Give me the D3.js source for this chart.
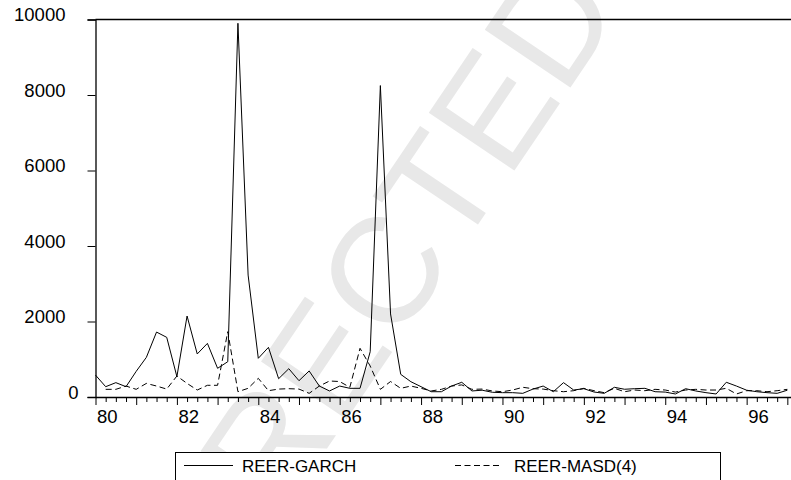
<!DOCTYPE html>
<html>
<head>
<meta charset="utf-8">
<script src="https://cdn.jsdelivr.net/npm/d3@7"></script>
<style>
  html, body { margin: 0; padding: 0; background: #fff; }
  svg { display: block; font-family: "Liberation Sans", Arial, sans-serif; }
</style>
</head>
<body>
<svg id="chart" width="791" height="480"></svg>
<script>
// ---- data (quarterly, 1980Q1 .. 1997Q1) ----
const startYear = 1980;
const seriesNames = ["REER-GARCH", "REER-MASD(4)"];
const garch = [580, 273, 380, 273, 680, 1050, 1720, 1580, 540, 2145,
  1140, 1420, 760, 935, 9900, 3230, 1025, 1315, 485, 750,
  432, 690, 290, 160, 290, 230, 230, 1200, 8250, 2200,
  600, 405, 273, 140, 140, 290, 390, 160, 180, 125,
  115, 115, 97, 210, 290, 140, 380, 185, 220, 132,
  97, 257, 205, 220, 230, 140, 130, 80, 220, 160,
  115, 80, 390, 290, 180, 140, 115, 97, 180];
const masd = [null, 203, 203, 290, 203, 360, 290, 210, 556, 360,
  185, 310, 310, 1730, 140, 230, 495, 167, 210, 220,
  210, 97, 290, 424, 410, 257, 1290, 820, 203, 410,
  230, 290, 230, 160, 203, 290, 320, 203, 210, 160,
  140, 185, 257, 220, 210, 167, 140, 167, 230, 167,
  115, 230, 140, 185, 167, 203, 185, 130, 185, 203,
  185, 185, 230, 80, 167, 167, 140, 167, 203];
const yTicks = [0, 2000, 4000, 6000, 8000, 10000];
const xLabelYears = [1980, 1982, 1984, 1986, 1988, 1990, 1992, 1994, 1996];

// ---- layout ----
const svg = d3.select("#chart");
const plotL = 95.5, plotR = 791, plotT = 19.5, plotB = 397;

const x = d3.scaleLinear().domain([1980, 1997.09]).range([plotL, plotR]);
const y = d3.scaleLinear().domain([0, 10000]).range([plotB, plotT]);

// watermark
svg.append("text")
  .attr("transform", "translate(624,8) rotate(-56)")
  .attr("text-anchor", "end")
  .attr("font-size", 150)
  .attr("fill", "#e8e8e8")
  .text("UNCORRECTED");

// series lines
const line = d3.line()
  .defined(d => d.v != null)
  .x(d => x(d.t))
  .y(d => y(d.v));

const toPts = arr => arr.map((v, i) => ({ t: startYear + i / 4, v }));

svg.append("path")
  .datum(toPts(masd))
  .attr("fill", "none")
  .attr("stroke", "#000")
  .attr("stroke-width", 1)
  .attr("stroke-dasharray", "6,3.5")
  .attr("d", line);

svg.append("path")
  .datum(toPts(garch))
  .attr("fill", "none")
  .attr("stroke", "#000")
  .attr("stroke-width", 1)
  .attr("d", line);

// top border
svg.append("line")
  .attr("x1", plotL).attr("x2", plotR)
  .attr("y1", plotT).attr("y2", plotT)
  .attr("stroke", "#000").attr("stroke-width", 1.3);

// y axis
const yAxis = d3.axisLeft(y)
  .tickValues(yTicks)
  .tickSize(8)
  .tickPadding(22)
  .tickFormat(d3.format("d"));
const gy = svg.append("g")
  .attr("transform", `translate(${plotL},0)`)
  .call(yAxis);
gy.select(".domain").attr("stroke-width", 1.3);
gy.selectAll("text")
  .attr("font-size", 18.5)
  .attr("font-family", "Liberation Sans, Arial, sans-serif")
  .attr("fill", "#000")
  .attr("dy", "0.07em")
  .filter(d => d === 0)
  .attr("x", -17);

// x axis (quarterly ticks)
const qTicks = d3.range(0, 17 * 4 + 1).map(i => startYear + i / 4);
const xAxis = d3.axisBottom(x)
  .tickValues(qTicks)
  .tickSize(5)
  .tickSizeOuter(0)
  .tickPadding(8)
  .tickFormat(d => xLabelYears.includes(d) ? String(d % 100).padStart(2, "0") : "");
const gx = svg.append("g")
  .attr("transform", `translate(0,${plotB})`)
  .call(xAxis);
gx.select(".domain").attr("stroke-width", 1.3);
gx.selectAll(".tick line")
  .attr("y2", d => Number.isInteger(d) ? 8 : 5);
gx.selectAll(".tick text")
  .attr("font-size", 18.5)
  .attr("font-family", "Liberation Sans, Arial, sans-serif")
  .attr("fill", "#000")
  .attr("text-anchor", "start")
  .attr("x", 1)
  .attr("dy", "0.71em");

// legend
const lg = svg.append("g");
lg.append("rect")
  .attr("x", 175.5).attr("y", 452.5)
  .attr("width", 545).attr("height", 40)
  .attr("fill", "#fff").attr("stroke", "#000").attr("stroke-width", 1);
const legendItems = [
  { name: seriesNames[0], x1: 184, x2: 233, tx: 242, dash: null },
  { name: seriesNames[1], x1: 455, x2: 502, tx: 514, dash: "6,3.5" }
];
legendItems.forEach(it => {
  lg.append("line")
    .attr("x1", it.x1).attr("x2", it.x2)
    .attr("y1", 465.5).attr("y2", 465.5)
    .attr("stroke", "#000").attr("stroke-width", 1)
    .attr("stroke-dasharray", it.dash);
  lg.append("text")
    .attr("x", it.tx).attr("y", 471.5)
    .attr("font-size", 17)
    .attr("fill", "#000")
    .text(it.name);
});
</script>
</body>
</html>
